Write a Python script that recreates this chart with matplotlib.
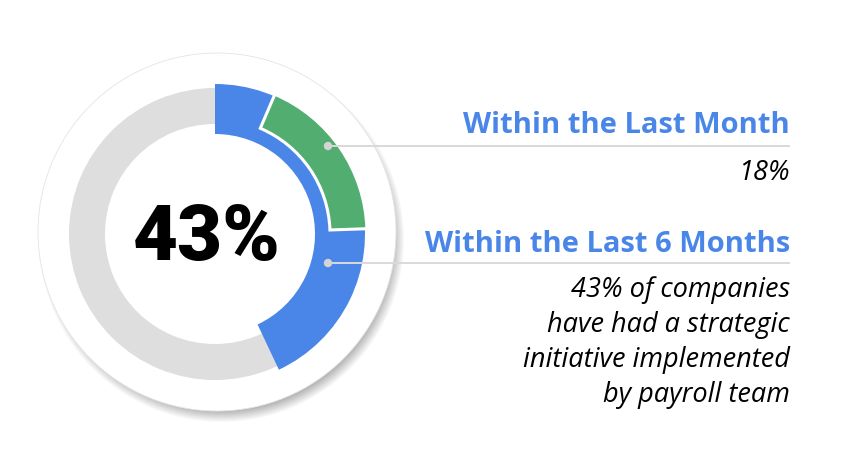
import numpy as np
import matplotlib
matplotlib.use("Agg")
import matplotlib.pyplot as plt
from matplotlib.patches import Wedge, Circle

# data
total_pct = 43
month_pct = 18
center_label = "43%"
titles = ["Within the Last Month", "Within the Last 6 Months"]
month_note = "18%"
six_month_note = ["43% of companies", "have had a strategic",
                  "initiative implemented", "by payroll team"]

W, H = 842, 469
BLUE = "#4a86e8"
GREEN = "#52ad70"
GRAY = "#dedede"

fig = plt.figure(figsize=(W / 100, H / 100), dpi=100)
ax = fig.add_axes([0, 0, 1, 1])
ax.set_xlim(0, W)
ax.set_ylim(H, 0)
ax.set_aspect("equal")
ax.axis("off")

cx, cy = 215, 234  # ring centre (pixels)

# soft shadow under the white disc
yy, xx = np.mgrid[0:H, 0:W]
d = np.hypot(xx - 221, yy - 239)
a = np.clip((183 - d) / 14, 0, 1) * 0.5
shadow = np.zeros((H, W, 4))
shadow[..., :3] = 0.32
shadow[..., 3] = a
ax.imshow(shadow, extent=(0, W, H, 0), zorder=0, interpolation="bilinear")

ax.add_patch(Circle((217, 232), 179, facecolor="white", edgecolor="#e4e4e4", lw=0.6, zorder=1))

# background ring
ax.add_patch(Wedge((cx, cy), 146, 0, 360, width=36, facecolor=GRAY, edgecolor="none", zorder=2))

# y axis is inverted, so data angle = clockwise angle from 12 o'clock - 90
blue_span = 360 * total_pct / 100
ax.add_patch(Wedge((cx, cy), 150, -90, -90 + blue_span, width=50,
                   facecolor=BLUE, edgecolor="none", zorder=3))

green_end = 88
green_span = 360 * month_pct / 100
ax.add_patch(Wedge((cx, cy), 152, green_end - green_span - 90, green_end - 90, width=37,
                   facecolor=GREEN, edgecolor="white", lw=2.2, zorder=4))

ax.text(207, 260, center_label, ha="center", va="baseline", fontsize=56,
        fontweight="black", family="Roboto", color="black", zorder=5)

# leader lines
line_y = [146, 263]
for ly in line_y:
    ax.plot([328, 790], [ly, ly], color="#d9d9d9", lw=1.4, zorder=5, solid_capstyle="butt")
    ax.add_patch(Circle((328, ly), 4.2, facecolor="#d4d4d4", edgecolor="none", zorder=6))

title_y = [133, 252]
for t, ty in zip(titles, title_y):
    ax.text(790, ty, t, ha="right", va="baseline", fontsize=21, fontweight="bold",
            family="Open Sans", color=BLUE, zorder=6)

ax.text(790, 180, month_note, ha="right", va="baseline", fontsize=19.5, style="italic",
        family="Open Sans", color="black")
for i, line in enumerate(six_month_note):
    ax.text(790, 297 + 35 * i, line, ha="right", va="baseline", fontsize=19.5,
            style="italic", family="Open Sans", color="black")

fig.savefig("out.png", dpi=100)
